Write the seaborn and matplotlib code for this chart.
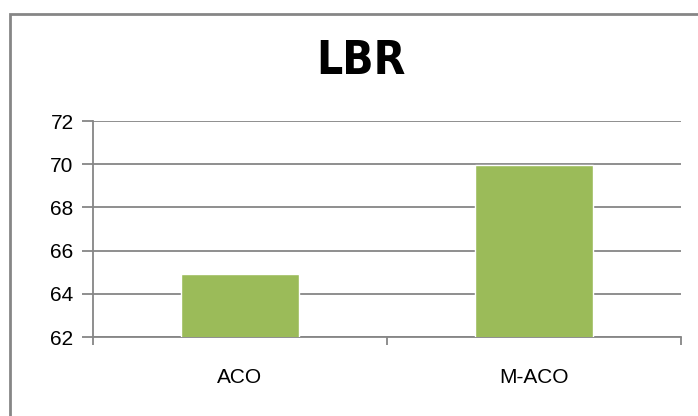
import pandas as pd
import matplotlib
matplotlib.use("Agg")
import matplotlib.pyplot as plt
import seaborn as sns
from matplotlib.patches import Rectangle

# Chart data
algorithms = ["ACO", "M-ACO"]
lbr_values = [64.9, 69.95]
y_ticks = [62, 64, 66, 68, 70, 72]

bar_color = "#9BBB59"
grid_color = "#868686"

sns.set_style("white")
plt.rcParams["font.family"] = ["Liberation Sans", "DejaVu Sans"]
plt.rcParams["text.color"] = "black"
plt.rcParams["xtick.labelcolor"] = "black"
plt.rcParams["ytick.labelcolor"] = "black"

df = pd.DataFrame({"algorithm": algorithms, "LBR": lbr_values})

fig = plt.figure(figsize=(6.98, 4.16), dpi=100)
ax = fig.add_axes([0.1332, 0.1899, 0.9756 - 0.1332, 0.7091 - 0.1899])

sns.barplot(data=df, x="algorithm", y="LBR", color=bar_color, width=0.4,
            saturation=1, ax=ax, zorder=3)

ax.set_ylim(62, 72)
ax.set_xlim(-0.5, 1.5)
ax.set_yticks(y_ticks)
ax.yaxis.grid(True, color=grid_color, linewidth=1.3, zorder=0)
ax.set_axisbelow(True)
ax.set_xlabel("")
ax.set_ylabel("")

for side in ["top", "right"]:
    ax.spines[side].set_visible(False)
for side in ["left", "bottom"]:
    ax.spines[side].set_visible(True)
    ax.spines[side].set_color(grid_color)
    ax.spines[side].set_linewidth(1.3)

# category boundary ticks like Excel
ax.set_xticks([-0.5, 0.5, 1.5], minor=True)
ax.tick_params(axis="x", which="minor", length=6, width=1.3, color=grid_color, direction="out", bottom=True)
ax.tick_params(axis="x", which="major", length=0, labelsize=15, pad=22, labelcolor="black")
ax.tick_params(axis="y", length=8, width=1.3, color=grid_color, direction="out", left=True,
               labelsize=15, pad=6, labelcolor="black")

fig.text(0.517, 0.853, "LBR", ha="center", va="center", fontsize=33,
         fontweight="bold", fontstretch="condensed", color="black",
         family=["DejaVu Sans"])

# chart border
fig.patches.append(Rectangle((10 / 698, -0.1), 1.2, 1 - 14 / 416 + 0.1,
                             transform=fig.transFigure, fill=False,
                             edgecolor="#868686", linewidth=2))

fig.savefig("out.png", dpi=100)
